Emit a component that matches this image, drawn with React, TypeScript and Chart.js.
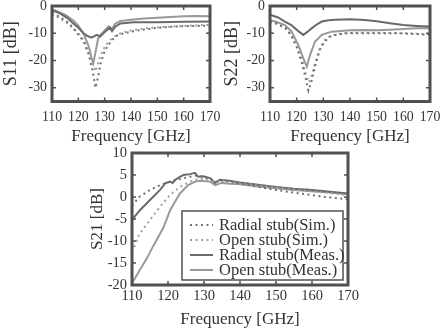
import React, { useEffect, useRef } from 'react';
import { Chart, registerables } from 'chart.js';
Chart.register(...registerables);

type P = [number, number];

const freqTicks = [110, 120, 130, 140, 150, 160, 170];
const s11Ticks = [-30, -20, -10, 0];
const s22Ticks = [-30, -20, -10, 0];
const s21Ticks = [-20, -15, -10, -5, 0, 5, 10];
const seriesLabels = ['Radial stub(Sim.)', 'Open stub(Sim.)', 'Radial stub(Meas.)', 'Open stub(Meas.)'];

// S11 [freq GHz, dB]
const s11RadialSim: P[] = [[110,-2.5],[113,-4],[116,-6],[118,-8],[120,-10.5],[122,-13],[124,-18],[125.5,-24],[126.5,-30],[127.5,-26],[128.5,-21],[130,-16.5],[132,-13.5],[134,-11.2],[136,-10.3],[140,-9.4],[145,-8.6],[150,-8],[155,-7.6],[160,-7.4],[165,-7.3],[170,-7.2]];
const s11OpenSim: P[] = [[110,-3],[113,-4.5],[116,-6.5],[118,-8.2],[120,-10],[122,-12.5],[124,-16.5],[125.5,-21],[126.5,-24],[127.5,-21],[128.5,-18],[130,-15],[132,-12.5],[134,-11],[136,-10],[140,-9],[145,-8.2],[150,-7.8],[160,-7.3],[170,-6.9]];
const s11RadialMeas: P[] = [[110,-1.5],[113,-2.7],[116,-4.5],[118,-6.3],[120,-8],[122,-10],[123.5,-11],[125,-11.6],[127,-10.6],[128.3,-11.2],[130.2,-9.4],[132,-7.9],[132.8,-9.2],[134,-7.6],[136,-6.4],[141,-6],[150,-6],[160,-5.8],[170,-5.7]];
const s11OpenMeas: P[] = [[110,-1.2],[115,-3.2],[118,-5.2],[120,-7.2],[122,-10.2],[124,-15],[125,-19],[125.7,-21],[126.5,-17],[127.5,-12],[128.5,-10.5],[130,-9],[131.5,-7.5],[132.7,-8.5],[134,-6.5],[136,-5.5],[140,-5],[145,-4.6],[150,-4.3],[155,-4],[160,-3.8],[165,-3.7],[170,-3.8]];

// S22
const s22RadialSim: P[] = [[110,-5.5],[113,-6.5],[116,-8.2],[118,-11],[120,-15],[122,-21],[123.5,-27],[124.4,-31],[125.6,-27.5],[126.9,-22],[128.7,-16],[130.5,-13],[132.5,-11.2],[135,-10.5],[138.7,-10],[147.5,-10],[158.7,-10],[165,-10.3],[170,-10.6]];
const s22OpenSim: P[] = [[110,-5.8],[113,-6.8],[116,-8.5],[118,-10.5],[120,-14],[122,-19.5],[123.5,-25],[124.6,-28],[125.8,-25],[127,-20.5],[128.7,-15.5],[130.5,-12.5],[133,-10.8],[136,-10.2],[140,-9.8],[150,-9.8],[160,-10],[170,-10.3]];
const s22RadialMeas: P[] = [[110,-3.2],[113,-4.2],[115.6,-5.7],[118,-7],[119.4,-8.2],[121,-9.5],[122.5,-10.6],[124,-9.5],[125.6,-8.2],[127.5,-6.8],[129.4,-5.7],[132,-5.2],[134.4,-5],[140,-4.9],[145.6,-5.1],[150,-5.6],[155,-6.3],[160,-7],[165,-7.3],[170,-7.5]];
const s22OpenMeas: P[] = [[110,-5.3],[112,-5.7],[115.6,-7],[118.1,-9.4],[120.6,-14.3],[122.5,-19.2],[123.8,-22.2],[125,-18],[126.9,-13],[129.4,-10.6],[133.1,-9.4],[140,-8.9],[145.6,-8.8],[150,-8.9],[155,-8.7],[160,-8.4],[165,-8.2],[170,-8.2]];

// S21
const s21RadialSim: P[] = [[110,-2],[112,0],[115,1.6],[117.8,2.7],[120.6,3.5],[123,4],[126,4.6],[128,4.9],[130,4.5],[132,4],[133,3.4],[135,3.8],[140,3.1],[145,2.3],[150,1.6],[155,1],[160,0.4],[165,-0.1],[170,-0.5]];
const s21OpenSim: P[] = [[110,-12.5],[112,-8.5],[115,-5.2],[117.8,-2.2],[120.6,0.5],[123.3,2.3],[126.1,3.5],[128,4],[130,4.1],[132,3.8],[133,3.3],[135,3.7],[140,3.2],[145,2.6],[150,2.1],[155,1.7],[160,1.3],[165,0.9],[170,0.4]];
const s21RadialMeas: P[] = [[110,-5.2],[112.2,-3],[115,-0.7],[117.8,1.6],[119.2,3.1],[120.6,3.5],[121.3,3.2],[122,3.9],[123.3,4.6],[124.3,5],[126.1,5.2],[127.5,5.5],[128.4,4.6],[129.8,4.7],[131.7,4.3],[133.1,3.2],[134.4,3.9],[137,3.7],[140,3.3],[145,2.8],[150,2.3],[155,1.9],[160,1.6],[165,1.2],[170,0.8]];
const s21OpenMeas: P[] = [[110,-19.6],[112,-16.8],[114.1,-14],[116,-11],[118.7,-7],[120.6,-3],[122,-1],[123.3,0.8],[125.6,2.7],[127.5,3.5],[128.9,3.7],[131.7,3.5],[133.1,2.7],[134.9,3.2],[137.2,3],[140,2.9],[145,2.4],[150,2],[155,1.6],[160,1.3],[165,1],[170,0.6]];

const FONT = 'Liberation Serif';
const FRAME = '#505050';
const TEXT = '#333333';
const styles = [
  { color: '#707070', dash: [2, 3.5], width: 2 },
  { color: '#a0a0a0', dash: [2, 3.5], width: 2 },
  { color: '#6a6a6a', dash: [] as number[], width: 2 },
  { color: '#999999', dash: [] as number[], width: 2 },
];

function makeDatasets(series: P[][]) {
  return series.map((s, i) => ({
    label: seriesLabels[i],
    data: s.map(([x, y]) => ({ x, y })),
    borderColor: styles[i].color,
    borderWidth: styles[i].width,
    borderDash: styles[i].dash,
    borderCapStyle: 'butt' as const,
    pointRadius: 0,
    tension: 0,
    fill: false,
  }));
}

const framePlugin = {
  id: 'frame',
  afterDatasetsDraw(chart: any) {
    const { ctx, chartArea: a, scales } = chart;
    ctx.save();
    ctx.strokeStyle = FRAME;
    ctx.lineWidth = 1.5;
    ctx.beginPath();
    const xs = scales.x, ys = scales.y;
    xs.ticks.forEach((t: any) => {
      const px = xs.getPixelForValue(t.value);
      if (px <= a.left + 2 || px >= a.right - 2) return;
      ctx.moveTo(px, a.bottom); ctx.lineTo(px, a.bottom - 4);
      ctx.moveTo(px, a.top); ctx.lineTo(px, a.top + 4);
    });
    ys.ticks.forEach((t: any) => {
      const py = ys.getPixelForValue(t.value);
      if (py <= a.top + 2 || py >= a.bottom - 2) return;
      ctx.moveTo(a.left, py); ctx.lineTo(a.left + 4, py);
      ctx.moveTo(a.right, py); ctx.lineTo(a.right - 4, py);
    });
    ctx.stroke();
    ctx.lineWidth = 3;
    ctx.strokeRect(a.left, a.top, a.right - a.left, a.bottom - a.top);
    ctx.restore();
  },
};

const legendPlugin = {
  id: 'cornerLegend',
  afterDraw(chart: any) {
    const { ctx, chartArea: a } = chart;
    const w = 161, h = 69;
    const right = a.right - 5, bottom = a.bottom - 5;
    const left = right - w, top = bottom - h;
    ctx.save();
    ctx.fillStyle = '#ffffff';
    ctx.fillRect(left, top, w, h);
    ctx.strokeStyle = FRAME;
    ctx.lineWidth = 1.5;
    ctx.strokeRect(left, top, w, h);
    ctx.font = `16.5px "${FONT}"`;
    ctx.textBaseline = 'middle';
    ctx.textAlign = 'left';
    chart.data.datasets.forEach((ds: any, i: number) => {
      const y = top + 14 + i * 15;
      ctx.beginPath();
      ctx.strokeStyle = ds.borderColor;
      ctx.lineWidth = ds.borderWidth;
      ctx.setLineDash(ds.borderDash || []);
      ctx.moveTo(left + 8, y);
      ctx.lineTo(left + 31, y);
      ctx.stroke();
      ctx.setLineDash([]);
      ctx.fillStyle = TEXT;
      ctx.fillText(ds.label, left + 37, y + 1);
    });
    ctx.restore();
  },
};

type Cfg = {
  series: P[][];
  yMin: number; yMax: number; yTicks: number[];
  yTitle: string;
  yWidth: number; xHeight: number;
  pad: { top: number; right: number };
  tickFont: number; tickPadX: number; tickPadY: number;
  yTitleFont: number; yTitlePad: number; xTitlePad: number;
  legend?: boolean;
};

function buildConfig(c: Cfg): any {
  return {
    type: 'line',
    data: { datasets: makeDatasets(c.series) },
    options: {
      responsive: false,
      animation: false,
      events: [],
      layout: { padding: { top: c.pad.top, right: c.pad.right, left: 0, bottom: 0 } },
      plugins: { legend: { display: false }, tooltip: { enabled: false } },
      scales: {
        x: {
          type: 'linear', min: 110, max: 170,
          afterBuildTicks: (s: any) => { s.ticks = freqTicks.map((v) => ({ value: v })); },
          afterFit: (s: any) => { s.height = c.xHeight; s.paddingLeft = 0; s.paddingRight = 0; s.paddingTop = 0; s.paddingBottom = 0; },
          grid: { display: false, drawTicks: false },
          border: { display: false },
          ticks: { padding: c.tickPadX, color: TEXT, font: { family: FONT, size: c.tickFont }, maxRotation: 0, autoSkip: false },
          title: { display: true, text: 'Frequency [GHz]', color: TEXT, font: { family: FONT, size: 17 }, padding: { top: 0, bottom: c.xTitlePad } },
        },
        y: {
          type: 'linear', min: c.yMin, max: c.yMax,
          afterBuildTicks: (s: any) => { s.ticks = c.yTicks.map((v) => ({ value: v })); },
          afterFit: (s: any) => { s.width = c.yWidth; s.paddingLeft = 0; s.paddingRight = 0; s.paddingTop = 0; s.paddingBottom = 0; },
          grid: { display: false, drawTicks: false },
          border: { display: false },
          ticks: { padding: c.tickPadY, color: TEXT, font: { family: FONT, size: c.tickFont } },
          title: { display: true, text: c.yTitle, color: TEXT, font: { family: FONT, size: c.yTitleFont }, padding: { top: c.yTitlePad, bottom: 0 } },
        },
      },
    },
    plugins: c.legend ? [framePlugin, legendPlugin] : [framePlugin],
  };
}

function Plot({ cfg, left, top, width, height }: { cfg: Cfg; left: number; top: number; width: number; height: number }) {
  const ref = useRef<HTMLCanvasElement | null>(null);
  useEffect(() => {
    if (!ref.current) return;
    const chart = new Chart(ref.current, buildConfig(cfg));
    return () => chart.destroy();
  }, [cfg]);
  return (
    <canvas
      ref={ref}
      width={width}
      height={height}
      style={{ position: 'absolute', left, top, width, height }}
    />
  );
}

const s11Cfg: Cfg = {
  series: [s11RadialSim, s11OpenSim, s11RadialMeas, s11OpenMeas],
  yMin: -35, yMax: 0, yTicks: s11Ticks, yTitle: 'S11 [dB]',
  yWidth: 52, xHeight: 48.5, pad: { top: 6, right: 20 },
  tickFont: 13.8, tickPadX: 8, tickPadY: 5, yTitleFont: 18, yTitlePad: 0.5, xTitlePad: 3,
};
const s22Cfg: Cfg = {
  series: [s22RadialSim, s22OpenSim, s22RadialMeas, s22OpenMeas],
  yMin: -35, yMax: 0, yTicks: s22Ticks, yTitle: 'S22 [dB]',
  yWidth: 50, xHeight: 48.5, pad: { top: 6, right: 20 },
  tickFont: 13.8, tickPadX: 8, tickPadY: 5, yTitleFont: 18, yTitlePad: 1, xTitlePad: 3,
};
const s21Cfg: Cfg = {
  series: [s21RadialSim, s21OpenSim, s21RadialMeas, s21OpenMeas],
  yMin: -20, yMax: 10, yTicks: s21Ticks, yTitle: 'S21 [dB]',
  yWidth: 52, xHeight: 49, pad: { top: 13, right: 32 },
  tickFont: 14.5, tickPadX: 2, tickPadY: 5, yTitleFont: 17, yTitlePad: 7, xTitlePad: 4,
  legend: true,
};

export default function App() {
  return (
    <div style={{ position: 'absolute', left: 0, top: 0, width: 440, height: 334, overflow: 'hidden', background: '#ffffff' }}>
      <Plot cfg={s11Cfg} left={0} top={0} width={230} height={150} />
      <Plot cfg={s22Cfg} left={220} top={0} width={230} height={150} />
      <Plot cfg={s21Cfg} left={80} top={140} width={300} height={194} />
    </div>
  );
}
